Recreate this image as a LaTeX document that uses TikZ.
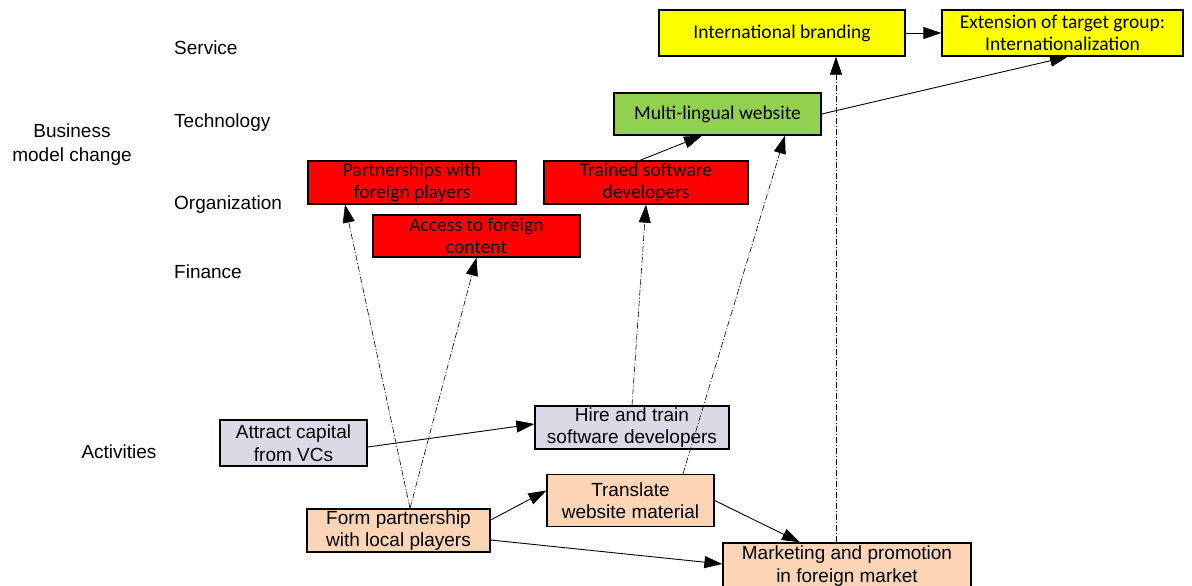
\documentclass[tikz,border=0pt]{standalone}
\usepackage{fontspec}
\setmainfont{Liberation Sans}
\newfontfamily\calfont{Carlito}
\usetikzlibrary{arrows.meta}
\definecolor{servicefill}{HTML}{FFFF00}
\definecolor{techfill}{HTML}{92D050}
\definecolor{orgfill}{HTML}{FF0000}
\definecolor{capfill}{HTML}{DCD8E6}
\definecolor{actfill}{HTML}{FBD5B5}
\begin{document}
\begin{tikzpicture}[x=1pt,y=-1pt,
  box/.style={draw=black, line width=1.3pt, inner sep=0pt, align=center,
    font=\fontsize{19}{22.5}\selectfont},
  bmbox/.style={box, font=\calfont\fontsize{19.5}{22.5}\selectfont},
  rowlabel/.style={anchor=west, inner sep=0pt, font=\fontsize{19}{23}\selectfont},
  link/.style={line width=0.9pt, -{Triangle[length=18pt,width=12pt]}},
  trace/.style={link, line width=0.6pt, dash pattern=on 6pt off 2pt on 1pt off 2pt}]
\useasboundingbox (0,0) rectangle (1192,586);

% layer labels
\node[rowlabel] (lservice) at (174,48) {Service};
\node[rowlabel] (ltech) at (174,123) {Technology};
\node[rowlabel] (lorg) at (174,205) {Organization};
\node[rowlabel] (lfin) at (174,272) {Finance};
\node[inner sep=0pt, align=center, font=\fontsize{19}{24}\selectfont] (lbm) at (72,145) {Business\\model change};
\node[inner sep=0pt, font=\fontsize{19}{23}\selectfont] (lact) at (119,452) {Activities};

% business model elements
\node[bmbox, fill=servicefill, minimum width=246pt, minimum height=46pt] (brand) at (782,33) {International branding};
\node[bmbox, fill=servicefill, minimum width=241pt, minimum height=46pt] (ext) at (1062.5,33) {Extension of target group:\\Internationalization};
\node[bmbox, fill=techfill, minimum width=207pt, minimum height=42pt] (multi) at (717.5,114) {Multi-lingual website};
\node[bmbox, fill=orgfill, minimum width=208pt, minimum height=43pt] (partner) at (412,182.5) {Partnerships with\\foreign players};
\node[bmbox, fill=orgfill, minimum width=204pt, minimum height=43pt] (trained) at (646,182.5) {Trained software\\developers};
\node[bmbox, fill=orgfill, minimum width=207pt, minimum height=42pt] (access) at (476.5,236) {Access to foreign\\content};

% activities
\node[box, fill=capfill, minimum width=147pt, minimum height=46pt] (attract) at (293.5,443) {Attract capital\\from VCs};
\node[box, fill=capfill, minimum width=194pt, minimum height=43pt] (hire) at (632,427.5) {Hire and train\\software developers};
\node[box, fill=actfill, minimum width=167pt, minimum height=52pt] (translate) at (630.5,500.5) {Translate\\website material};
\node[box, fill=actfill, minimum width=183pt, minimum height=43pt] (form) at (398.5,530.5) {Form partnership\\with local players};
\node[box, fill=actfill, minimum width=248pt, minimum height=46pt] (market) at (847,566) {Marketing and promotion\\in foreign market};

% activities feeding business model elements
\draw[trace] ([xshift=11.5pt]form.north) -- ([xshift=-67pt]partner.south);
\draw[trace] ([xshift=11.5pt]form.north) -- (access.south);
\draw[trace] (hire.north) -- (trained.south);
\draw[trace] ([xshift=52.5pt]translate.north) -- ([xshift=67.5pt]multi.south);
\draw[trace] ([xshift=-11pt]market.north) -- ([xshift=54pt]brand.south);

% links between business model elements
\draw[link] ([xshift=-6pt]trained.north) -- ([xshift=-15.5pt]multi.south);
\draw[link] (multi.east) -- ([xshift=5.5pt]ext.south);
\draw[link] (brand.east) -- (ext.west);

% links between activities
\draw[link] ([yshift=-4pt]attract.east) -- ([yshift=3.5pt]hire.west);
\draw[link] ([yshift=10.5pt]form.east) -- ([yshift=10pt]translate.west);
\draw[link] ([yshift=-9.5pt]form.east) -- ([yshift=2pt]market.west);
\draw[link] (translate.east) -- ([xshift=-47pt]market.north);
\end{tikzpicture}
\end{document}
